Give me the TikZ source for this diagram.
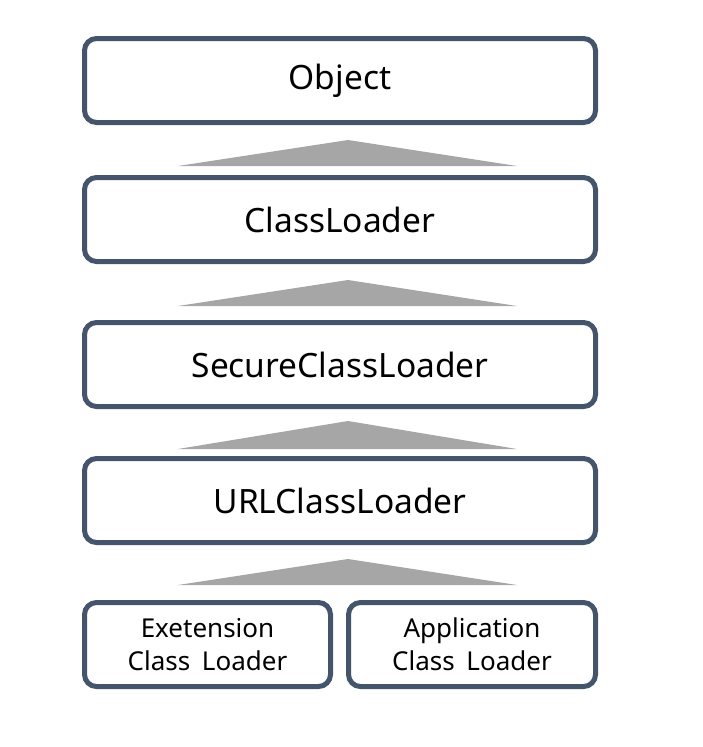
\documentclass[tikz,border=0pt]{standalone}
\usepackage{fontspec}
\setmainfont{Noto Sans}
\begin{document}
\begin{tikzpicture}[x=1pt,y=-1pt,
  box/.style={draw=boxc, line width=5pt, rounded corners=12pt, fill=white, inner sep=0pt, align=center},
  big/.style={box, minimum width=511pt, minimum height=84pt, font=\fontsize{33.5}{40}\selectfont},
  small/.style={box, minimum height=84pt, font=\fontsize{26}{33}\selectfont},
  tri/.style={fill=trig, draw=none}]
\definecolor{boxc}{HTML}{44546A}
\definecolor{trig}{HTML}{A6A6A6}
\useasboundingbox (0,0) rectangle (703,747);
\node[big] (obj) at (340,80.5) {Object};
\node[big] (cl) at (340,219.5) {ClassLoader};
\node[big] (scl) at (340,364.5) {SecureClassLoader};
\node[big] (ucl) at (340,500.5) {URLClassLoader};
\node[small, minimum width=246pt] (ext) at (207.5,644.5) {Exetension\\Class\hspace{0.45em}Loader};
\node[small, minimum width=247pt] (app) at (472,644.5) {Application\\Class\hspace{0.45em}Loader};
\fill[tri] (178,166) -- (348,140) -- (517,166) -- cycle;
\fill[tri] (178,306) -- (348,280) -- (517,306) -- cycle;
\fill[tri] (178,449) -- (348,421) -- (517,449) -- cycle;
\fill[tri] (178,585) -- (348,559) -- (517,585) -- cycle;
\end{tikzpicture}
\end{document}
